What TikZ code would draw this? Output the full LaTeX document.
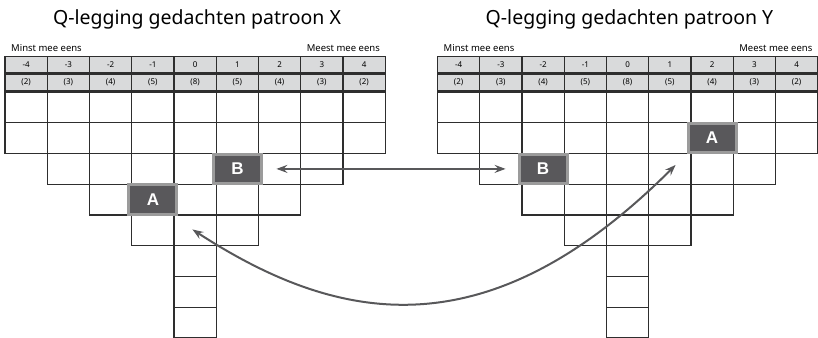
\documentclass[tikz,border=0pt]{standalone}
\usepackage{fontspec}
\setmainfont{Noto Sans}
\newfontfamily\cardfont{Liberation Sans}
\usetikzlibrary{arrows.meta}
\definecolor{boxgray}{HTML}{59585B}
\definecolor{rimgray}{HTML}{9B9B9B}
\definecolor{headgray}{HTML}{D9DADB}
\definecolor{linegray}{HTML}{2E2E2E}
\definecolor{arrowgray}{HTML}{58585A}
\begin{document}
\begin{tikzpicture}[x=1pt,y=1pt,
  cell/.style={draw=linegray,line width=1.2pt},
  head/.style={cell,fill=headgray,minimum width=42.25pt,minimum height=16.5pt,inner sep=0pt,font=\fontsize{8}{9}\selectfont},
  side/.style={inner sep=0pt,font=\fontsize{9.5}{11}\selectfont},
  card/.style={draw=rimgray,fill=boxgray,line width=3pt,minimum width=48pt,minimum height=29.7pt,text=white,font=\cardfont\fontsize{17}{19}\selectfont\bfseries},
  arr/.style={draw=arrowgray,line width=2pt,{Stealth[length=11pt,width=8pt,inset=4pt]}-{Stealth[length=11pt,width=8pt,inset=4pt]}}]
\useasboundingbox (0,0) rectangle (818,-337);
\clip (0,0) rectangle (818,-337);

\foreach \pat/\x in {X/5,Y/437.5}{
  \node (title\pat) at (\x+192,-19) {\fontsize{19.5}{22}\selectfont Q-legging gedachten patroon \pat};
  \node[side,anchor=west] (minst\pat) at (\x+6,-48) {Minst mee eens};
  \node[side,anchor=east] (meest\pat) at (\x+375,-48) {Meest mee eens};
  \foreach \v/\n [count=\i] in {-4/2,-3/3,-2/4,-1/5,0/8,1/5,2/4,3/3,4/2}{
    \node[head] (score\pat\i) at (\x+\i*42.25-21.125,-64.5) {\v};
    \node[head] (count\pat\i) at (\x+\i*42.25-21.125,-82.25) {(\n)};
    \foreach \j in {1,...,\n}
      \draw[cell] (\x+\i*42.25-42.25,-61.25-\j*30.75) rectangle +(42.25,-30.75);
  }
}

\node[card] (ax) at (152.9,-199.6) {A};
\node[card] (bx) at (237.4,-168.9) {B};
\node[card] (ay) at (712.1,-138.1) {A};
\node[card] (by) at (543.1,-168.9) {B};

\coordinate (ax tip) at ([shift={(14pt,-13.5pt)}]ax.south east);
\coordinate (ay tip) at ([shift={(-11pt,-10.5pt)}]ay.south west);

\draw[arr,shorten <=13.5pt,shorten >=12pt] (bx.east) -- (by.west);
\draw[arr] (ax tip) .. controls +(-33:170) and +(225:270) .. (ay tip);
\end{tikzpicture}
\end{document}
